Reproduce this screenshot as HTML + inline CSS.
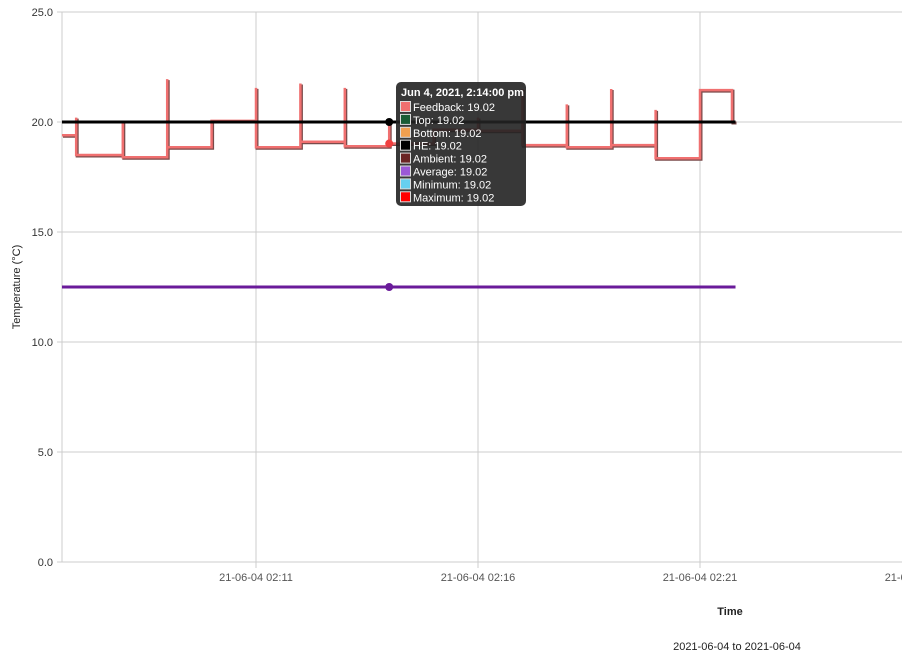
<!DOCTYPE html>
<html><head><meta charset="utf-8"><style>
body{margin:0;background:#fff;font-family:"Liberation Sans",Arial,sans-serif}
svg text{font-family:"Liberation Sans",Arial,sans-serif}
</style></head><body>
<svg id="chart" width="902" height="653" xmlns="http://www.w3.org/2000/svg">
<g id="grid"></g>
<g id="series"></g>
<g id="axes"></g>
<text x="20" y="287" font-size="11" text-anchor="middle" transform="rotate(-90 20 287)" fill="#222">Temperature (°C)</text>
<text x="730" y="615" font-size="11" font-weight="bold" text-anchor="middle" fill="#222">Time</text>
<text x="737" y="650" font-size="11" text-anchor="middle" fill="#222">2021-06-04 to 2021-06-04</text>
<g id="tooltip"></g>
</svg>
<script>
const yTicks=[0,5,10,15,20,25];
const xTicks=[11,16,21,26];
const xTickLabels=["21-06-04 02:11","21-06-04 02:16","21-06-04 02:21","21-06-04 02:26"];
const startTime=6.63, startLevel=19.4, endTime=21.8;
const stepTimes=[6.95,8,9,10,11,12,13,14,15,16,17,18,19,20,21,21.72];
const stepLevels=[18.5,18.4,18.85,20.05,18.85,19.1,18.9,19.02,19.65,19.6,18.95,18.85,18.95,18.35,21.45,20.0];
const stepSpikes=[20.2,20.05,21.95,null,21.55,21.75,21.55,20.0,null,20.2,21.5,20.8,21.5,20.55,null,null];
const heValue=20.0, averageValue=12.5, hoverTime=14, hoverValue=19.02;
const tipLabels=["Feedback","Top","Bottom","HE","Ambient","Average","Minimum","Maximum"];
const tipValues=[19.02,19.02,19.02,19.02,19.02,19.02,19.02,19.02];
const tipColors=["#f07070","#1a5c35","#f0a050","#000000","#6b2424","#9b59d6","#66d0f0","#ff0000"];

const NS="http://www.w3.org/2000/svg";
const X0=62,X1=902,Y0=562,Y1=12;
const xs=t=>256+(t-11)*44.4;
const ys=v=>Y0-(v/25)*(Y0-Y1);
function mk(tag,attrs,parent){const e=document.createElementNS(NS,tag);for(const k in attrs)e.setAttribute(k,attrs[k]);parent.appendChild(e);return e;}
const grid=document.getElementById('grid'),axes=document.getElementById('axes'),series=document.getElementById('series'),tip=document.getElementById('tooltip');
yTicks.forEach(v=>{
 const l=mk('line',{x1:X0-5,x2:X1,y1:ys(v),y2:ys(v),stroke:'#ccc','stroke-width':1},grid);
 
 
 const t=mk('text',{x:X0-9,y:ys(v)+4,'font-size':11,'text-anchor':'end',fill:'#333'},axes);
 t.textContent=v.toFixed(1);
 
 
});
mk('line',{x1:X0,x2:X0,y1:Y1,y2:Y0,stroke:'#ccc'},grid);
xTicks.forEach((v,i)=>{
 const x=xs(v);
 if(x<X1){const l=mk('line',{x1:x,x2:x,y1:Y1,y2:Y0+6,stroke:'#ccc'},grid);
 
 }
 const t=mk('text',{x:x,y:581,'font-size':11,'text-anchor':'middle',fill:'#555'},axes);
 t.textContent=xTickLabels[i];
 
 
});
// feedback step path
let d=`M${xs(startTime)},${ys(startLevel)}`;let prev=startLevel;
stepTimes.forEach((t,i)=>{d+=` L${xs(t)},${ys(prev)}`;if(stepSpikes[i]!==null)d+=` L${xs(t)},${ys(stepSpikes[i])}`;d+=` L${xs(t)},${ys(stepLevels[i])}`;prev=stepLevels[i];});
d+=` L${xs(endTime)},${ys(prev)}`;
const sh=mk('path',{d:d,fill:'none',stroke:'#7a4a4a','stroke-width':3,transform:'translate(1,1)'},series);


const fb=mk('path',{d:d,fill:'none',stroke:'#f07070','stroke-width':2.5},series);


const he=mk('line',{x1:xs(startTime),x2:xs(endTime),y1:ys(heValue),y2:ys(heValue),stroke:'#000','stroke-width':3},series);


const av=mk('line',{x1:xs(startTime),x2:xs(endTime),y1:ys(averageValue),y2:ys(averageValue),stroke:'#6a1b9a','stroke-width':3},series);


[[heValue,'#000','he-point'],[hoverValue,'#f04040','feedback-point'],[averageValue,'#6a1b9a','average-point']].forEach(p=>{
 const c=mk('circle',{cx:xs(hoverTime),cy:ys(p[0]),r:4,fill:p[1]},series);
 
 
});
// tooltip
mk('rect',{x:396,y:82,width:130,height:124,rx:5,fill:'#222','fill-opacity':0.9},tip);
const tt=mk('text',{x:401,y:96,'font-size':11,'font-weight':'bold',fill:'#fff'},tip);
tt.textContent='Jun 4, 2021, 2:14:00 pm';


tipLabels.forEach((lab,i)=>{
 const y=107+i*12.9;
 const r=mk('rect',{x:400.5,y:y-5.5,width:10,height:10,fill:tipColors[i],stroke:'#ddd','stroke-width':1},tip);
 
 
 const t=mk('text',{x:413,y:y+4,'font-size':11,fill:'#fff'},tip);
 t.textContent=lab+': '+tipValues[i].toFixed(2);
 
 
});
</script>
</body></html>
